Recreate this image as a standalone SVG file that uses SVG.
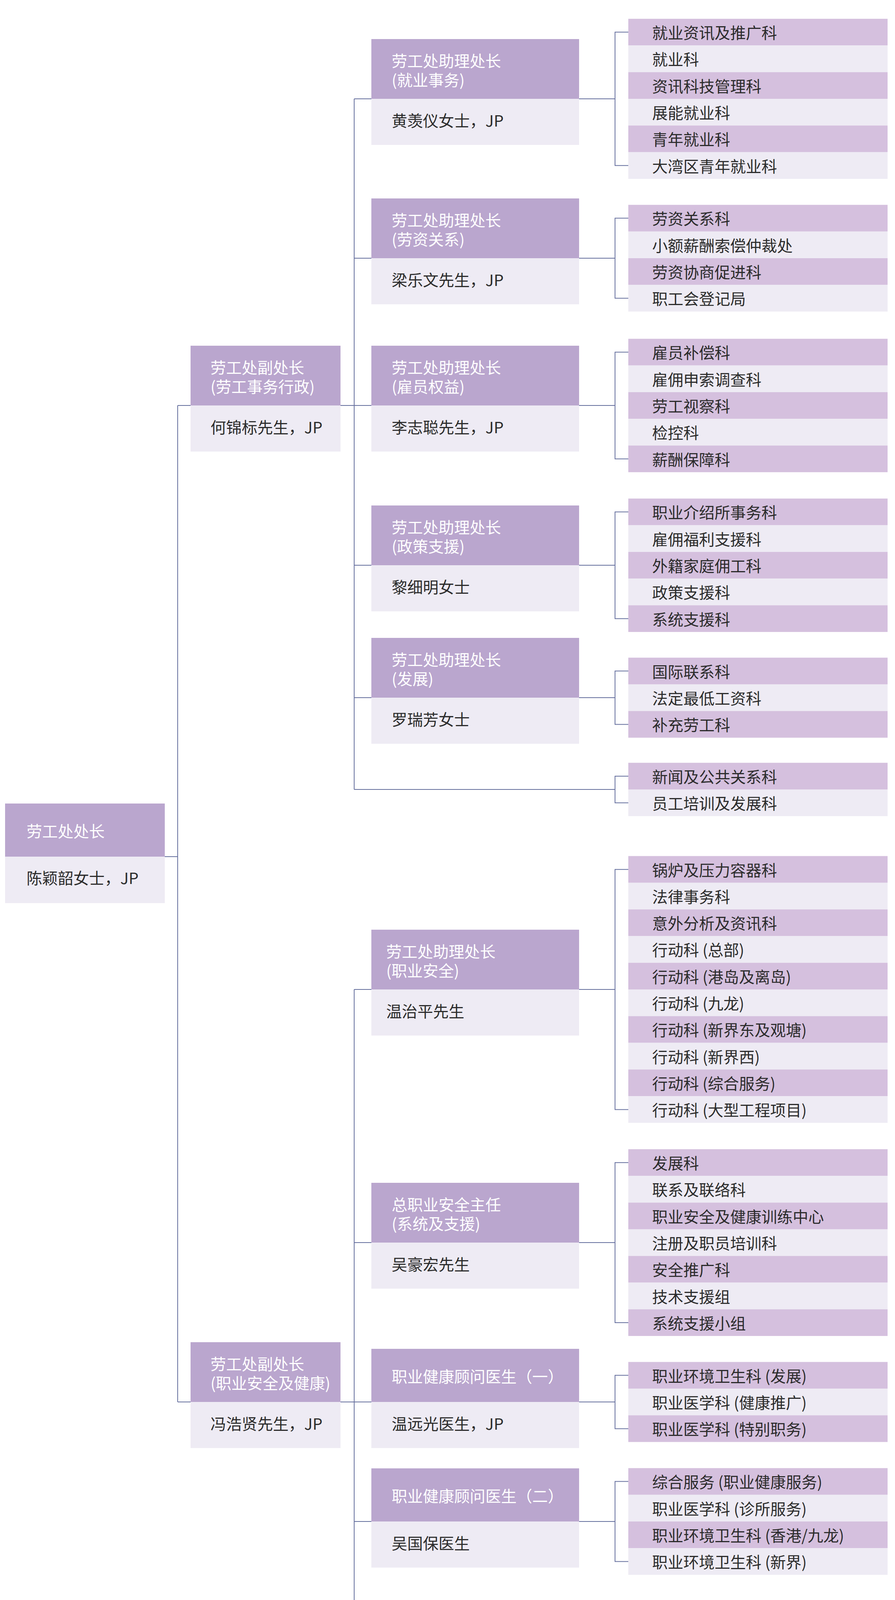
<svg xmlns="http://www.w3.org/2000/svg" width="2292" height="4311" viewBox="0 0 2292 4311">
<style>
.hd{fill:#baa6ce}
.bd{fill:#eeebf4}
.ld{fill:#d5c0de}
.ll{fill:#eeebf4}
text{font-family:"Noto Sans CJK SC","Noto Sans",sans-serif;font-size:40px}
.tw{fill:#ffffff}
.tk{fill:#2b2b2b}
.conn path{fill:none;stroke:#66709e;stroke-width:2}
</style>
<rect width="2292" height="4311" fill="#ffffff"/>
<g class="conn" id="connectors">
<path d="M422,2193H455M455,1038V3589M455,1038H488M455,3589H488"/>
<path d="M907,253V2021M907,2533V4168"/>
<path d="M872,1038H907M872,3589H907"/>
<path d="M907,253H951M907,661H951M907,1038H951M907,1447H951M907,1786H951M907,2533H951M907,3181H951M907,3589H951M907,3895H951"/>
<path d="M1483,253H1575M1483,661H1575M1483,1038H1575M1483,1447H1575M1483,1786H1575M907,2021H1575M1483,2533H1575M1483,3181H1575M1483,3589H1575M1483,3895H1575M907,4168H1575"/>
<path d="M1609,82.3H1575V423.8H1609"/>
<path d="M1609,558.6H1575V763.5H1609"/>
<path d="M1609,901.4H1575V1174.7H1609"/>
<path d="M1609,1310.4H1575V1583.7H1609"/>
<path d="M1609,1717.7H1575V1854.4H1609"/>
<path d="M1609,1986.9H1575V2055.2H1609"/>
<path d="M1609,2225.7H1575V2840.4H1609"/>
<path d="M1609,2976.2H1575V3386H1609"/>
<path d="M1609,3520.7H1575V3657.4H1609"/>
<path d="M1609,3792.6H1575V3997.5H1609"/>
<path d="M1609,4133.9H1575V4202.2H1609"/>
</g>
<g id="root">
<rect class="hd" x="13" y="2057" width="409" height="136"/>
<rect class="bd" x="13" y="2193" width="409" height="119"/>
<text class="tw" x="68" y="2143">劳工处处长</text>
<text class="tk" x="68" y="2263">陈颖韶女士，JP</text>
</g>
<g id="dep1">
<rect class="hd" x="488" y="885" width="384" height="153"/>
<rect class="bd" x="488" y="1038" width="384" height="118"/>
<text class="tw" x="539" y="956">劳工处副处长</text>
<text class="tw" x="539" y="1005">(劳工事务行政)</text>
<text class="tk" x="539" y="1109">何锦标先生，JP</text>
</g>
<g id="dep2">
<rect class="hd" x="488" y="3436" width="384" height="153"/>
<rect class="bd" x="488" y="3589" width="384" height="118"/>
<text class="tw" x="539" y="3507">劳工处副处长</text>
<text class="tw" x="539" y="3556">(职业安全及健康)</text>
<text class="tk" x="539" y="3660">冯浩贤先生，JP</text>
</g>
<g id="g1">
<rect class="hd" x="951" y="100" width="532" height="153"/>
<rect class="bd" x="951" y="253" width="532" height="118"/>
<text class="tw" x="1003" y="171">劳工处助理处长</text>
<text class="tw" x="1003" y="220">(就业事务)</text>
<text class="tk" x="1003" y="324">黄羡仪女士，JP</text>
</g>
<g id="g1-leaves">
<rect class="ld" x="1609" y="48.1" width="664" height="68.3"/>
<rect class="ll" x="1609" y="116.4" width="664" height="68.3"/>
<rect class="ld" x="1609" y="184.7" width="664" height="68.3"/>
<rect class="ll" x="1609" y="253" width="664" height="68.3"/>
<rect class="ld" x="1609" y="321.3" width="664" height="68.3"/>
<rect class="ll" x="1609" y="389.6" width="664" height="68.3"/>
<text class="tk" x="1670" y="99.1">就业资讯及推广科</text>
<text class="tk" x="1670" y="167.4">就业科</text>
<text class="tk" x="1670" y="235.7">资讯科技管理科</text>
<text class="tk" x="1670" y="304">展能就业科</text>
<text class="tk" x="1670" y="372.3">青年就业科</text>
<text class="tk" x="1670" y="440.6">大湾区青年就业科</text>
</g>
<g id="g2">
<rect class="hd" x="951" y="508" width="532" height="153"/>
<rect class="bd" x="951" y="661" width="532" height="118"/>
<text class="tw" x="1003" y="579">劳工处助理处长</text>
<text class="tw" x="1003" y="628">(劳资关系)</text>
<text class="tk" x="1003" y="732">梁乐文先生，JP</text>
</g>
<g id="g2-leaves">
<rect class="ld" x="1609" y="524.4" width="664" height="68.3"/>
<rect class="ll" x="1609" y="592.7" width="664" height="68.3"/>
<rect class="ld" x="1609" y="661" width="664" height="68.3"/>
<rect class="ll" x="1609" y="729.3" width="664" height="68.3"/>
<text class="tk" x="1670" y="575.4">劳资关系科</text>
<text class="tk" x="1670" y="643.7">小额薪酬索偿仲裁处</text>
<text class="tk" x="1670" y="712">劳资协商促进科</text>
<text class="tk" x="1670" y="780.3">职工会登记局</text>
</g>
<g id="g3">
<rect class="hd" x="951" y="885" width="532" height="153"/>
<rect class="bd" x="951" y="1038" width="532" height="118"/>
<text class="tw" x="1003" y="956">劳工处助理处长</text>
<text class="tw" x="1003" y="1005">(雇员权益)</text>
<text class="tk" x="1003" y="1109">李志聪先生，JP</text>
</g>
<g id="g3-leaves">
<rect class="ld" x="1609" y="867.3" width="664" height="68.3"/>
<rect class="ll" x="1609" y="935.6" width="664" height="68.3"/>
<rect class="ld" x="1609" y="1003.9" width="664" height="68.3"/>
<rect class="ll" x="1609" y="1072.2" width="664" height="68.3"/>
<rect class="ld" x="1609" y="1140.5" width="664" height="68.3"/>
<text class="tk" x="1670" y="918.3">雇员补偿科</text>
<text class="tk" x="1670" y="986.6">雇佣申索调查科</text>
<text class="tk" x="1670" y="1054.9">劳工视察科</text>
<text class="tk" x="1670" y="1123.2">检控科</text>
<text class="tk" x="1670" y="1191.5">薪酬保障科</text>
</g>
<g id="g4">
<rect class="hd" x="951" y="1294" width="532" height="153"/>
<rect class="bd" x="951" y="1447" width="532" height="118"/>
<text class="tw" x="1003" y="1365">劳工处助理处长</text>
<text class="tw" x="1003" y="1414">(政策支援)</text>
<text class="tk" x="1003" y="1518">黎细明女士</text>
</g>
<g id="g4-leaves">
<rect class="ld" x="1609" y="1276.3" width="664" height="68.3"/>
<rect class="ll" x="1609" y="1344.6" width="664" height="68.3"/>
<rect class="ld" x="1609" y="1412.9" width="664" height="68.3"/>
<rect class="ll" x="1609" y="1481.2" width="664" height="68.3"/>
<rect class="ld" x="1609" y="1549.5" width="664" height="68.3"/>
<text class="tk" x="1670" y="1327.3">职业介绍所事务科</text>
<text class="tk" x="1670" y="1395.6">雇佣福利支援科</text>
<text class="tk" x="1670" y="1463.9">外籍家庭佣工科</text>
<text class="tk" x="1670" y="1532.2">政策支援科</text>
<text class="tk" x="1670" y="1600.5">系统支援科</text>
</g>
<g id="g5">
<rect class="hd" x="951" y="1633" width="532" height="153"/>
<rect class="bd" x="951" y="1786" width="532" height="118"/>
<text class="tw" x="1003" y="1704">劳工处助理处长</text>
<text class="tw" x="1003" y="1753">(发展)</text>
<text class="tk" x="1003" y="1857">罗瑞芳女士</text>
</g>
<g id="g5-leaves">
<rect class="ld" x="1609" y="1683.6" width="664" height="68.3"/>
<rect class="ll" x="1609" y="1751.9" width="664" height="68.3"/>
<rect class="ld" x="1609" y="1820.2" width="664" height="68.3"/>
<text class="tk" x="1670" y="1734.6">国际联系科</text>
<text class="tk" x="1670" y="1802.9">法定最低工资科</text>
<text class="tk" x="1670" y="1871.2">补充劳工科</text>
</g>
<g id="g6-leaves">
<rect class="ld" x="1609" y="1952.7" width="664" height="68.3"/>
<rect class="ll" x="1609" y="2021" width="664" height="68.3"/>
<text class="tk" x="1670" y="2003.7">新闻及公共关系科</text>
<text class="tk" x="1670" y="2072">员工培训及发展科</text>
</g>
<g id="g7">
<rect class="hd" x="951" y="2380" width="532" height="153"/>
<rect class="bd" x="951" y="2533" width="532" height="118"/>
<text class="tw" x="989" y="2451">劳工处助理处长</text>
<text class="tw" x="989" y="2500">(职业安全)</text>
<text class="tk" x="989" y="2604">温治平先生</text>
</g>
<g id="g7-leaves">
<rect class="ld" x="1609" y="2191.5" width="664" height="68.3"/>
<rect class="ll" x="1609" y="2259.8" width="664" height="68.3"/>
<rect class="ld" x="1609" y="2328.1" width="664" height="68.3"/>
<rect class="ll" x="1609" y="2396.4" width="664" height="68.3"/>
<rect class="ld" x="1609" y="2464.7" width="664" height="68.3"/>
<rect class="ll" x="1609" y="2533" width="664" height="68.3"/>
<rect class="ld" x="1609" y="2601.3" width="664" height="68.3"/>
<rect class="ll" x="1609" y="2669.6" width="664" height="68.3"/>
<rect class="ld" x="1609" y="2737.9" width="664" height="68.3"/>
<rect class="ll" x="1609" y="2806.2" width="664" height="68.3"/>
<text class="tk" x="1670" y="2242.5">锅炉及压力容器科</text>
<text class="tk" x="1670" y="2310.8">法律事务科</text>
<text class="tk" x="1670" y="2379.1">意外分析及资讯科</text>
<text class="tk" x="1670" y="2447.4">行动科 (总部)</text>
<text class="tk" x="1670" y="2515.7">行动科 (港岛及离岛)</text>
<text class="tk" x="1670" y="2584">行动科 (九龙)</text>
<text class="tk" x="1670" y="2652.3">行动科 (新界东及观塘)</text>
<text class="tk" x="1670" y="2720.6">行动科 (新界西)</text>
<text class="tk" x="1670" y="2788.9">行动科 (综合服务)</text>
<text class="tk" x="1670" y="2857.2">行动科 (大型工程项目)</text>
</g>
<g id="g8">
<rect class="hd" x="951" y="3028" width="532" height="153"/>
<rect class="bd" x="951" y="3181" width="532" height="118"/>
<text class="tw" x="1003" y="3099">总职业安全主任</text>
<text class="tw" x="1003" y="3148">(系统及支援)</text>
<text class="tk" x="1003" y="3252">吴豪宏先生</text>
</g>
<g id="g8-leaves">
<rect class="ld" x="1609" y="2942" width="664" height="68.3"/>
<rect class="ll" x="1609" y="3010.3" width="664" height="68.3"/>
<rect class="ld" x="1609" y="3078.6" width="664" height="68.3"/>
<rect class="ll" x="1609" y="3146.9" width="664" height="68.3"/>
<rect class="ld" x="1609" y="3215.2" width="664" height="68.3"/>
<rect class="ll" x="1609" y="3283.5" width="664" height="68.3"/>
<rect class="ld" x="1609" y="3351.8" width="664" height="68.3"/>
<text class="tk" x="1670" y="2993">发展科</text>
<text class="tk" x="1670" y="3061.3">联系及联络科</text>
<text class="tk" x="1670" y="3129.6">职业安全及健康训练中心</text>
<text class="tk" x="1670" y="3197.9">注册及职员培训科</text>
<text class="tk" x="1670" y="3266.2">安全推广科</text>
<text class="tk" x="1670" y="3334.5">技术支援组</text>
<text class="tk" x="1670" y="3402.8">系统支援小组</text>
</g>
<g id="g9">
<rect class="hd" x="951" y="3453" width="532" height="136"/>
<rect class="bd" x="951" y="3589" width="532" height="118"/>
<text class="tw" x="1003" y="3539">职业健康顾问医生（一）</text>
<text class="tk" x="1003" y="3660">温远光医生，JP</text>
</g>
<g id="g9-leaves">
<rect class="ld" x="1609" y="3486.6" width="664" height="68.3"/>
<rect class="ll" x="1609" y="3554.9" width="664" height="68.3"/>
<rect class="ld" x="1609" y="3623.2" width="664" height="68.3"/>
<text class="tk" x="1670" y="3537.6">职业环境卫生科 (发展)</text>
<text class="tk" x="1670" y="3605.9">职业医学科 (健康推广)</text>
<text class="tk" x="1670" y="3674.2">职业医学科 (特别职务)</text>
</g>
<g id="g10">
<rect class="hd" x="951" y="3759" width="532" height="136"/>
<rect class="bd" x="951" y="3895" width="532" height="118"/>
<text class="tw" x="1003" y="3845">职业健康顾问医生（二）</text>
<text class="tk" x="1003" y="3966">吴国保医生</text>
</g>
<g id="g10-leaves">
<rect class="ld" x="1609" y="3758.4" width="664" height="68.3"/>
<rect class="ll" x="1609" y="3826.7" width="664" height="68.3"/>
<rect class="ld" x="1609" y="3895" width="664" height="68.3"/>
<rect class="ll" x="1609" y="3963.3" width="664" height="68.3"/>
<text class="tk" x="1670" y="3809.4">综合服务 (职业健康服务)</text>
<text class="tk" x="1670" y="3877.7">职业医学科 (诊所服务)</text>
<text class="tk" x="1670" y="3946">职业环境卫生科 (香港/九龙)</text>
<text class="tk" x="1670" y="4014.3">职业环境卫生科 (新界)</text>
</g>
<g id="g11-leaves">
<rect class="ld" x="1609" y="4099.7" width="664" height="68.3"/>
<rect class="ll" x="1609" y="4168" width="664" height="68.3"/>
<text class="tk" x="1670" y="4150.7">部门行政科</text>
<text class="tk" x="1670" y="4219">职业安全及健康部 (总部)</text>
</g>
</svg>
